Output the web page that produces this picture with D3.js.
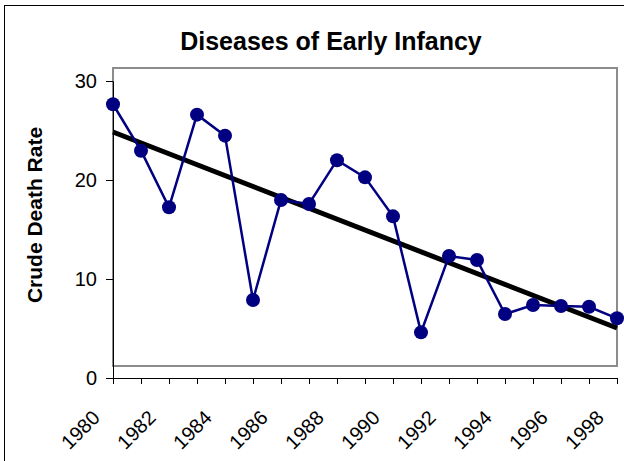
<!DOCTYPE html>
<html>
<head>
<meta charset="utf-8">
<script src="https://cdn.jsdelivr.net/npm/d3@7"></script>
<style>
  body { margin: 0; background: #fff; }
  text { font-family: "Liberation Sans", Arial, sans-serif; }
</style>
</head>
<body>
<div class="chart"></div>
<script>
// Data
const years = [1980, 1981, 1982, 1983, 1984, 1985, 1986, 1987, 1988, 1989,
               1990, 1991, 1992, 1993, 1994, 1995, 1996, 1997, 1998];
const rates = [27.65, 22.96, 17.24, 26.6, 24.48, 7.88, 17.98, 17.58, 22.0, 20.27,
               16.33, 4.61, 12.32, 11.92, 6.46, 7.37, 7.27, 7.2, 6.03];
// linear trend line end points
const trendYears = [1980, 1998];
const trendValues = [24.85, 5.05];
const yTicks = [0, 10, 20, 30];
const yearLabels = [1980, 1982, 1984, 1986, 1988, 1990, 1992, 1994, 1996, 1998];

const width = 624, height = 461;

const svg = d3.select(".chart")
    .append("svg")
    .attr("width", width)
    .attr("height", height);

// outer chart border (runs off right and bottom edge)
svg.append("rect")
    .attr("x", 4.5).attr("y", 5.5)
    .attr("width", 640).attr("height", 480)
    .attr("fill", "none")
    .attr("stroke", "#000")
    .attr("stroke-width", 1);

const x = d3.scaleLinear().domain([1980, 1998]).range([113, 617]);
const y = d3.scaleLinear().domain([0, 30]).range([378, 81]);

// plot area border
svg.append("rect")
    .attr("x", 113).attr("y", 68)
    .attr("width", 617 - 113).attr("height", 366 - 68)
    .attr("fill", "none")
    .attr("stroke", "#8c8c8c")
    .attr("stroke-width", 2);

// Title
svg.append("text")
    .attr("x", 331).attr("y", 50)
    .attr("text-anchor", "middle")
    .style("font-size", "25px")
    .style("font-weight", "bold")
    .text("Diseases of Early Infancy");

// y axis label
svg.append("text")
    .attr("transform", "translate(42,215) rotate(-90)")
    .attr("text-anchor", "middle")
    .style("font-size", "21px")
    .style("font-weight", "bold")
    .text("Crude Death Rate");

// y axis
const yAxis = svg.append("g")
    .attr("transform", "translate(113,0)")
    .call(d3.axisLeft(y).tickValues(yTicks).tickSize(7).tickSizeOuter(0).tickPadding(9));
yAxis.selectAll("text").style("font-size", "20px").style("font-family", "'Liberation Sans', Arial, sans-serif");

// x axis
const xAxis = svg.append("g")
    .attr("transform", "translate(0,378)")
    .call(d3.axisBottom(x).tickValues(years).tickSize(6).tickSizeOuter(0).tickFormat(""));

svg.selectAll(".domain, .tick line").attr("stroke", "#000");

// rotated year labels
svg.append("g")
    .selectAll("text")
    .data(yearLabels)
    .enter()
    .append("text")
    .attr("transform", d => `translate(${x(d) - 12},419) rotate(-45)`)
    .attr("text-anchor", "end")
    .style("font-size", "20px")
    .text(d => d);

// trend line
svg.append("line")
    .attr("x1", x(trendYears[0])).attr("y1", y(trendValues[0]))
    .attr("x2", x(trendYears[1])).attr("y2", y(trendValues[1]))
    .attr("stroke", "#000")
    .attr("stroke-width", 5);

// series line + markers
const line = d3.line()
    .x((d, i) => x(years[i]))
    .y(d => y(d));

svg.append("path")
    .datum(rates)
    .attr("fill", "none")
    .attr("stroke", "#000080")
    .attr("stroke-width", 2.5)
    .attr("d", line);

svg.selectAll(".dot")
    .data(rates)
    .enter()
    .append("circle")
    .attr("class", "dot")
    .attr("cx", (d, i) => x(years[i]))
    .attr("cy", d => y(d))
    .attr("r", 7)
    .attr("fill", "#000080");
</script>
</body>
</html>
